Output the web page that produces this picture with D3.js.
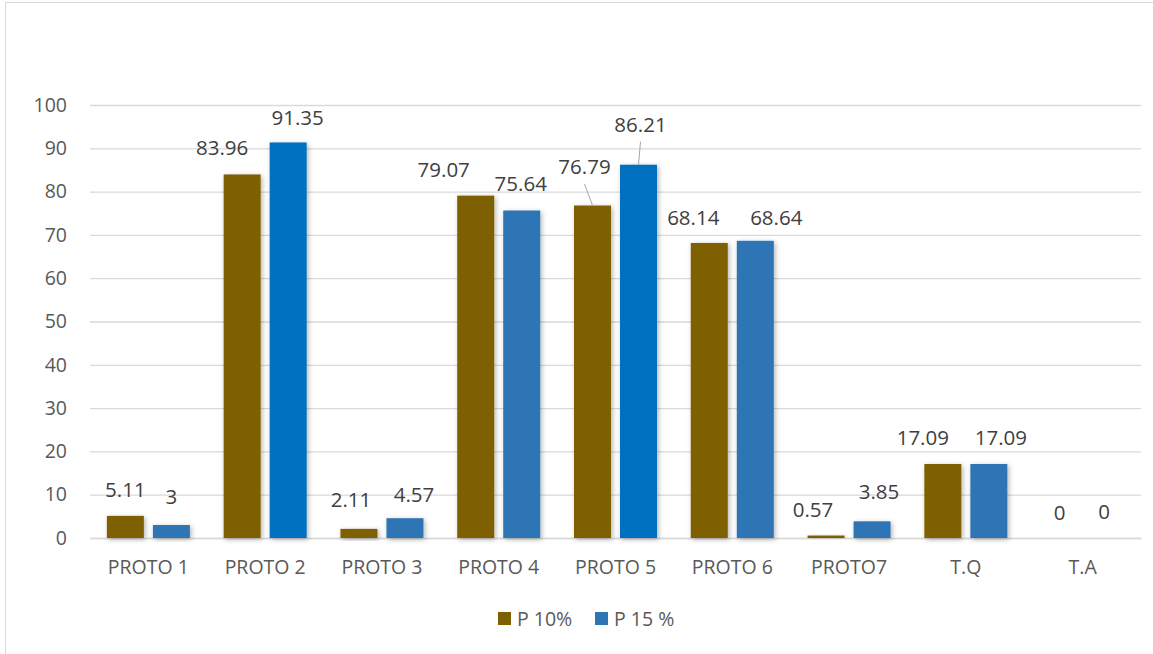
<!DOCTYPE html>
<html>
<head>
<meta charset="utf-8">
<script src="https://cdn.jsdelivr.net/npm/d3@7"></script>
<style>
  html, body { margin: 0; padding: 0; background: #fff; }
  svg { display: block; }
</style>
</head>
<body>
<svg id="chart" width="1153" height="654"></svg>
<script>
// ---- data ----
const categories = ["PROTO 1", "PROTO 2", "PROTO 3", "PROTO 4", "PROTO 5", "PROTO 6", "PROTO7", "T.Q", "T.A"];
const seriesNames = ["P 10%", "P 15 %"];
const p10 = [5.11, 83.96, 2.11, 79.07, 76.79, 68.14, 0.57, 17.09, 0];
const p15 = [3, 91.35, 4.57, 75.64, 86.21, 68.64, 3.85, 17.09, 0];
const yTicks = [0, 10, 20, 30, 40, 50, 60, 70, 80, 90, 100];

// ---- styling / label placement (not data) ----
const colorP10 = "#7F6000";
const colorP15 = ["#2E75B6", "#0070C0", "#2E75B6", "#2E75B6", "#0070C0", "#2E75B6", "#2E75B6", "#2E75B6", "#2E75B6"];
const labelDx10 = [0, -20, -8, -32, -8, -16, -13, -20, 0];
const labelDy10 = [0, 0, -3, 0, -12.5, 1, 0, 0, 1];
const labelDx15 = [0, 9.5, 9, -1, 2, 21, 7, 12, -1.5];
const labelDy15 = [-2, 1.5, 2.5, 0, -14, 3, -3, 0, 0];
const leader10 = [false, false, false, false, true, false, false, false, false];
const leader15 = [false, false, false, false, true, false, false, false, false];

const svg = d3.select("#chart");
const plot = { left: 90, right: 1141, top: 105, bottom: 538 };
const FONT = "'Open Sans', 'Liberation Sans', sans-serif";

// frame
svg.append("rect").attr("x", 5.5).attr("y", 2.5).attr("width", 1160).attr("height", 700)
  .attr("fill", "#fff").attr("stroke", "#d9d9d9").attr("stroke-width", 1);

// shadow filter
const defs = svg.append("defs");
const f = defs.append("filter").attr("id", "shadow").attr("x", "-30%").attr("y", "-30%").attr("width", "160%").attr("height", "160%");
f.append("feDropShadow").attr("dx", 1.5).attr("dy", 1.5).attr("stdDeviation", 2.5)
  .attr("flood-color", "#000").attr("flood-opacity", 0.3);

const x0 = d3.scaleBand().domain(categories).range([plot.left, plot.right]).paddingInner(0).paddingOuter(0);
const x1 = d3.scaleBand().domain(seriesNames).range([0, x0.bandwidth()]).paddingInner(0.196).paddingOuter(0.367);
const y = d3.scaleLinear().domain([0, 100]).range([plot.bottom, plot.top]);

// gridlines
const yAxis = d3.axisLeft(y).tickValues(yTicks).tickSize(-(plot.right - plot.left)).tickPadding(23);
const gy = svg.append("g").attr("transform", `translate(${plot.left},0)`).call(yAxis);
gy.select(".domain").remove();
gy.selectAll(".tick line").attr("stroke", "#d9d9d9").attr("stroke-width", 1.3);
gy.selectAll(".tick text").attr("fill", "#595959").style("font-family", FONT).style("font-size", "19.5px");

// x axis
const xAxis = d3.axisBottom(x0).tickSize(0).tickPadding(22);
const gx = svg.append("g").attr("transform", `translate(0,${plot.bottom})`).call(xAxis);
gx.select(".domain").attr("stroke", "#d9d9d9").attr("stroke-width", 1.3);
gx.selectAll(".tick text").attr("fill", "#595959").style("font-family", FONT).style("font-size", "19.5px");

// bars
const rows = categories.map((c, i) => ({ c, i, vals: [p10[i], p15[i]] }));
const groups = svg.append("g").selectAll("g").data(rows).join("g")
  .attr("transform", d => `translate(${x0(d.c)},0)`);

groups.selectAll("rect").data(d => d.vals.map((v, k) => ({ v, k, i: d.i })))
  .join("rect")
  .attr("x", d => x1(seriesNames[d.k]))
  .attr("width", x1.bandwidth())
  .attr("y", d => y(d.v))
  .attr("height", d => Math.max(0, y(0) - y(d.v)))
  .attr("fill", d => d.k === 0 ? colorP10 : colorP15[d.i])
  .attr("filter", d => d.v > 0 ? "url(#shadow)" : null);

// data labels
const labels = [];
rows.forEach(d => {
  [0, 1].forEach(k => {
    const v = d.vals[k];
    const cx = x0(d.c) + x1(seriesNames[k]) + x1.bandwidth() / 2;
    const dx = k === 0 ? labelDx10[d.i] : labelDx15[d.i];
    const dy = k === 0 ? labelDy10[d.i] : labelDy15[d.i];
    const leader = k === 0 ? leader10[d.i] : leader15[d.i];
    labels.push({ v, cx, top: y(v), lx: cx + dx, ly: y(v) - 19 + dy, leader });
  });
});

svg.append("g").selectAll("line").data(labels.filter(d => d.leader)).join("line")
  .attr("x1", d => d.lx).attr("y1", d => d.ly + 10)
  .attr("x2", d => d.cx).attr("y2", d => d.top)
  .attr("stroke", "#a6a6a6").attr("stroke-width", 1);

svg.append("g").selectAll("text").data(labels).join("text")
  .attr("x", d => d.lx).attr("y", d => d.ly)
  .attr("text-anchor", "middle")
  .attr("fill", "#404040")
  .style("font-family", FONT).style("font-size", "20.5px")
  .text(d => String(d.v));

// legend
const legend = svg.append("g");
const legendItems = [
  { name: seriesNames[0], color: colorP10, x: 498 },
  { name: seriesNames[1], color: "#2E75B6", x: 595 }
];
legendItems.forEach(it => {
  legend.append("rect").attr("x", it.x).attr("y", 612).attr("width", 13).attr("height", 13).attr("fill", it.color);
  legend.append("text").attr("x", it.x + 19).attr("y", 625.5).attr("fill", "#595959")
    .style("font-family", FONT).style("font-size", "19.5px").text(it.name);
});
</script>
</body>
</html>
